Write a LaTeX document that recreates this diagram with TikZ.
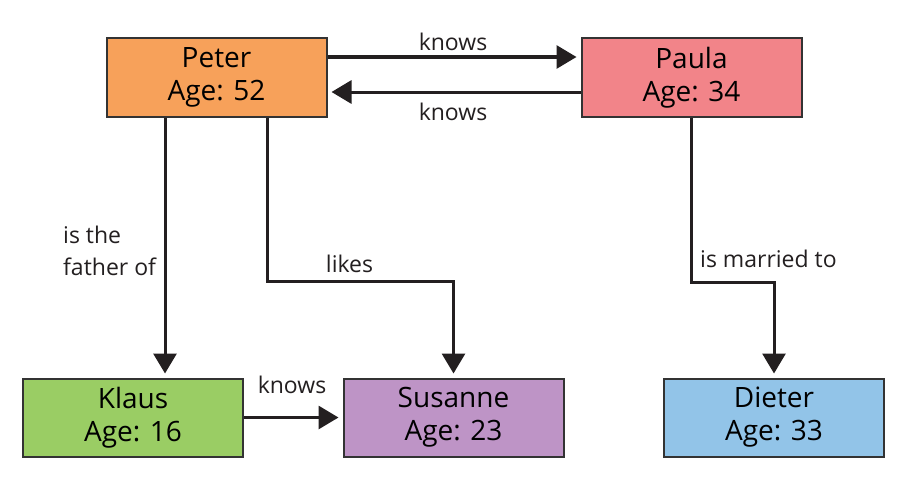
\documentclass[tikz,border=0pt]{standalone}
\usepackage{fontspec}
\setmainfont{Open Sans}
\usetikzlibrary{arrows.meta}
\definecolor{cPeter}{HTML}{F7A15A}
\definecolor{cPaula}{HTML}{F28489}
\definecolor{cKlaus}{HTML}{9ACD64}
\definecolor{cSusanne}{HTML}{BE94C6}
\definecolor{cDieter}{HTML}{92C4E8}
\definecolor{cLine}{HTML}{231F20}
\definecolor{cBorder}{HTML}{333333}
\begin{document}
\begin{tikzpicture}[x=1pt,y=-1pt,
  person/.style={draw=cBorder,line width=2pt,minimum width=220pt,minimum height=78pt,
    inner sep=0pt,align=center,font=\fontsize{28}{33}\selectfont},
  conn/.style={draw=cLine,line width=3pt,-{Triangle[width=23pt,length=20pt]},shorten >=4pt},
  lbl/.style={inner sep=0pt,font=\fontsize{23}{32}\selectfont,text=cLine}]
\useasboundingbox[fill=white] (0,0) rectangle (909,495);
\node[person,fill=cPeter]   (Peter)   at (216.5,77.5) {Peter\\Age: 52};
\node[person,fill=cPaula]   (Paula)   at (691.5,77.5) {Paula\\Age: 34};
\node[person,fill=cKlaus]   (Klaus)   at (133,417.5)  {Klaus\\Age: 16};
\node[person,fill=cSusanne] (Susanne) at (453.5,417.5) {Susanne\\Age: 23};
\node[person,fill=cDieter]  (Dieter)  at (774,417.5)  {Dieter\\Age: 33};
\draw[conn] ([yshift=20.5pt]Peter.east) -- ([yshift=20.5pt]Paula.west);
\draw[conn] ([yshift=-14.5pt]Paula.west) -- ([yshift=-14.5pt]Peter.east);
\draw[conn] (Peter.south -| 165,0) -- (Klaus.north -| 165,0);
\draw[conn] (Peter.south -| 267,0) |- (Susanne.north |- 0,281) -- (Susanne.north);
\draw[conn] (Paula.south) |- (Dieter.north |- 0,282) -- (Dieter.north);
\draw[conn] (Klaus.east) -- (Susanne.west);
\node[lbl,anchor=base] (l1) at (453,50) {knows};
\node[lbl,anchor=base] (l2) at (453,120) {knows};
\node[lbl,anchor=base] (l3) at (292,393) {knows};
\node[lbl,anchor=base] (l4) at (349.5,272) {likes};
\node[lbl,anchor=base west] (l5) at (700,267) {is married to};
\node[lbl,anchor=base west,align=left] (l6) at (63,275) {is the\\father of};
\end{tikzpicture}
\end{document}
